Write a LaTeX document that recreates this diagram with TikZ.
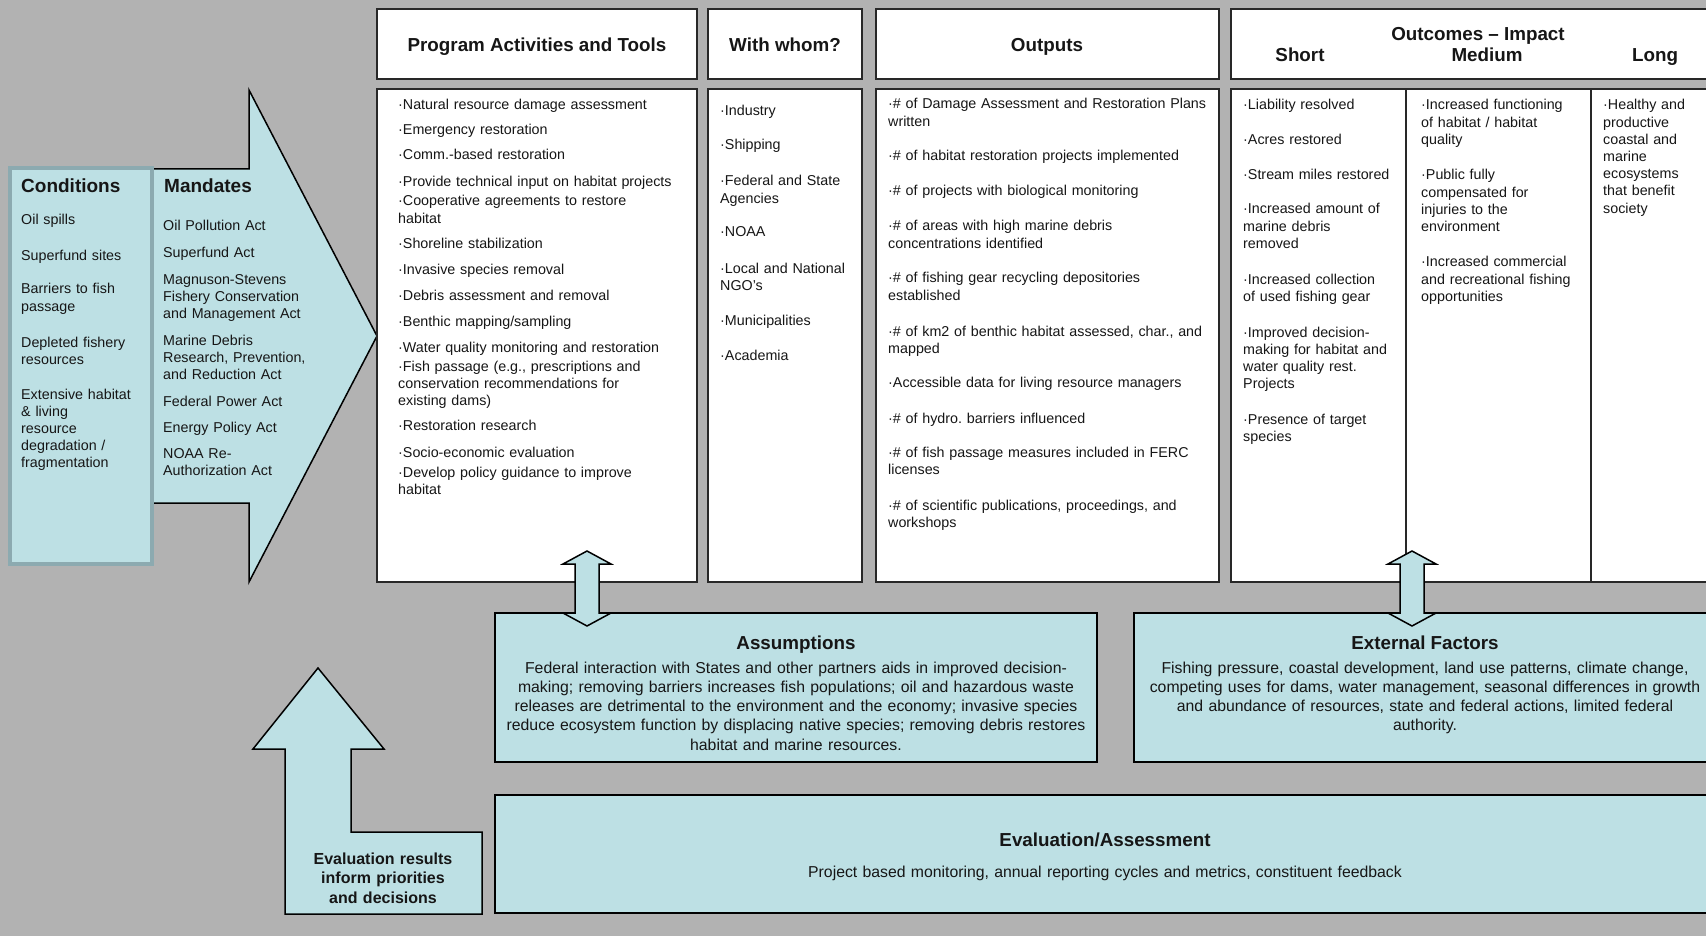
\documentclass[tikz,border=0pt]{standalone}
\usepackage{fontspec}
\setmainfont{Liberation Sans}
\definecolor{bg}{RGB}{178,178,178}
\definecolor{lb}{RGB}{189,224,228}
\definecolor{cb}{RGB}{140,170,176}
\definecolor{ink}{RGB}{22,22,22}
\definecolor{edge}{RGB}{40,40,40}
\frenchspacing
\begin{document}
\begin{tikzpicture}[x=1pt,y=-1pt,
  every node/.style={inner sep=0pt, text=ink},
  wbox/.style={draw=edge, line width=2pt, fill=white},
  bbox/.style={draw=black, line width=2pt, fill=lb},
  arr/.style={draw=black, line width=1.5pt, fill=lb, line join=miter},
  itm/.style={anchor=base west, align=left, text width=420pt, font=\fontsize{14.3}{17.2}\selectfont},
  hd/.style={anchor=base, font=\bfseries\fontsize{18.8}{22}\selectfont},
  colhd/.style={anchor=base west, font=\bfseries\fontsize{19}{22}\selectfont},
  para/.style={anchor=base, align=center, text width=640pt, font=\fontsize{15.8}{19.3}\selectfont},
]
\path[use as bounding box] (0,0) rectangle (1706,936);
\fill[bg] (0,0) rectangle (1706,936);

% big arrow (mandates) and conditions box
\draw[arr] (140,169) -- (249,169) -- (249,90) -- (377,336) -- (249,582) -- (249,503) -- (140,503) -- cycle;
\node[draw=cb, line width=4pt, fill=lb, minimum width=142, minimum height=396] (cond) at (81,366) {};

% header boxes
\node[wbox, minimum width=320, minimum height=70] (hpa) at (537,44) {};
\node[wbox, minimum width=154, minimum height=70] (hww) at (785,44) {};
\node[wbox, minimum width=343, minimum height=70] (hout) at (1047.5,44) {};
\node[wbox, minimum width=499, minimum height=70] (hoc) at (1480.5,44) {};

% body boxes
\node[wbox, minimum width=320, minimum height=493] (bpa) at (537,335.5) {};
\node[wbox, minimum width=154, minimum height=493] (bww) at (785,335.5) {};
\node[wbox, minimum width=343, minimum height=493] (bout) at (1047.5,335.5) {};
\node[wbox, minimum width=499, minimum height=493] (boc) at (1480.5,335.5) {};
\draw[edge, line width=2pt] (1406,89) -- (1406,582);
\draw[edge, line width=2pt] (1591,89) -- (1591,582);

% lower boxes
\node[bbox, minimum width=602, minimum height=149] (asm) at (796,687.5) {};
\node[bbox, minimum width=596, minimum height=149] (ext) at (1432,687.5) {};
\node[bbox, minimum width=1235, minimum height=118] (eva) at (1112.5,854) {};

% evaluation results arrow
\draw[arr] (285,914) -- (285,749) -- (253,749) -- (318,668) -- (384,749) -- (351,749) -- (351,832) -- (482,832) -- (482,914) -- cycle;

% double arrows
\foreach \cx in {587,1412}{
  \draw[arr] (\cx,551) -- ++(24,13) -- ++(-12,0) -- ++(0,49) -- ++(12,0) -- (\cx,626)
    -- ++(-24,-13) -- ++(12,0) -- ++(0,-49) -- ++(-12,0) -- cycle;
}

% headers text
\node[hd] (thpa) at (537,52) {Program Activities and Tools};
\node[hd] (thww) at (785,52) {With whom?};
\node[hd] (thout) at (1047,52) {Outputs};
\node[hd] (thoc) at (1478,41) {Outcomes – Impact};
\node[hd] (ths) at (1300,62) {Short};
\node[hd] (thm) at (1487,62) {Medium};
\node[hd] (thl) at (1655,62) {Long};

% conditions
\node[colhd] (tcond) at (21,193) {Conditions};
\node[itm] (c1) at (21,225) {Oil spills};
\node[itm] (c2) at (21,261) {Superfund sites};
\node[itm] (c3) at (21,294) {Barriers to fish\\passage};
\node[itm] (c4) at (21,347) {Depleted fishery\\resources};
\node[itm] (c5) at (21,399) {Extensive habitat\\\& living\\resource\\degradation /\\fragmentation};

% mandates
\node[colhd] (tmand) at (164,193) {Mandates};
\node[itm] (m1) at (163,231) {Oil Pollution Act};
\node[itm] (m2) at (163,258) {Superfund Act};
\node[itm] (m3) at (163,284) {Magnuson-Stevens\\Fishery Conservation\\and Management Act};
\node[itm] (m4) at (163,345) {Marine Debris\\Research, Prevention,\\and Reduction Act};
\node[itm] (m5) at (163,406) {Federal Power Act};
\node[itm] (m6) at (163,432) {Energy Policy Act};
\node[itm] (m7) at (163,458) {NOAA Re-\\Authorization Act};

% program activities
\node[itm] (p1) at (398,110) {·Natural resource damage assessment};
\node[itm] (p2) at (398,135) {·Emergency restoration};
\node[itm] (p3) at (398,160) {·Comm.-based restoration};
\node[itm] (p4) at (398,187) {·Provide technical input on habitat projects};
\node[itm] (p5) at (398,206) {·Cooperative agreements to restore\\habitat};
\node[itm] (p6) at (398,248) {·Shoreline stabilization};
\node[itm] (p7) at (398,274) {·Invasive species removal};
\node[itm] (p8) at (398,300) {·Debris assessment and removal};
\node[itm] (p9) at (398,326) {·Benthic mapping/sampling};
\node[itm] (p10) at (398,352) {·Water quality monitoring and restoration};
\node[itm] (p11) at (398,371) {·Fish passage (e.g., prescriptions and\\conservation recommendations for\\existing dams)};
\node[itm] (p12) at (398,430) {·Restoration research};
\node[itm] (p13) at (398,457) {·Socio-economic evaluation};
\node[itm] (p14) at (398,477) {·Develop policy guidance to improve\\habitat};

% with whom
\node[itm] (w1) at (720,116) {·Industry};
\node[itm] (w2) at (720,150) {·Shipping};
\node[itm] (w3) at (720,186) {·Federal and State\\Agencies};
\node[itm] (w4) at (720,237) {·NOAA};
\node[itm] (w5) at (720,273) {·Local and National\\NGO’s};
\node[itm] (w6) at (720,325) {·Municipalities};
\node[itm] (w7) at (720,360) {·Academia};

% outputs
\node[itm] (o1) at (888,109) {·\# of Damage Assessment and Restoration Plans\\written};
\node[itm] (o2) at (888,161) {·\# of habitat restoration projects implemented};
\node[itm] (o3) at (888,196) {·\# of projects with biological monitoring};
\node[itm] (o4) at (888,231) {·\# of areas with high marine debris\\concentrations identified};
\node[itm] (o5) at (888,283) {·\# of fishing gear recycling depositories\\established};
\node[itm] (o6) at (888,336) {·\# of km2 of benthic habitat assessed, char., and\\mapped};
\node[itm] (o7) at (888,387) {·Accessible data for living resource managers};
\node[itm] (o8) at (888,423) {·\# of hydro. barriers influenced};
\node[itm] (o9) at (888,457) {·\# of fish passage measures included in FERC\\licenses};
\node[itm] (o10) at (888,510) {·\# of scientific publications, proceedings, and\\workshops};

% short
\node[itm] (s1) at (1243,110) {·Liability resolved};
\node[itm] (s2) at (1243,145) {·Acres restored};
\node[itm] (s3) at (1243,180) {·Stream miles restored};
\node[itm] (s4) at (1243,214) {·Increased amount of\\marine debris\\removed};
\node[itm] (s5) at (1243,284) {·Increased collection\\of used fishing gear};
\node[itm] (s6) at (1243,337) {·Improved decision-\\making for habitat and\\water quality rest.\\Projects};
\node[itm] (s7) at (1243,424) {·Presence of target\\species};

% medium
\node[itm] (md1) at (1421,110) {·Increased functioning\\of habitat / habitat\\quality};
\node[itm] (md2) at (1421,180) {·Public fully\\compensated for\\injuries to the\\environment};
\node[itm] (md3) at (1421,267) {·Increased commercial\\and recreational fishing\\opportunities};

% long
\node[itm] (l1) at (1603,110) {·Healthy and\\productive\\coastal and\\marine\\ecosystems\\that benefit\\society};

% assumptions
\node[hd] (tasm) at (796,649) {Assumptions};
\node[para] (pasm) at (796,673) {Federal interaction with States and other partners aids in improved decision-\\making; removing barriers increases fish populations; oil and hazardous waste\\releases are detrimental to the environment and the economy; invasive species\\reduce ecosystem function by displacing native species; removing debris restores\\habitat and marine resources.};

% external factors
\node[hd] (text) at (1425,649) {External Factors};
\node[para] (pext) at (1425,673) {Fishing pressure, coastal development, land use patterns, climate change,\\competing uses for dams, water management, seasonal differences in growth\\and abundance of resources, state and federal actions, limited federal\\authority.};

% evaluation / assessment
\node[hd] (teva) at (1105,846) {Evaluation/Assessment};
\node[para, text width=800pt] (peva) at (1105,877) {Project based monitoring, annual reporting cycles and metrics, constituent feedback};

% evaluation results
\node[anchor=base, align=center, text width=200pt, font=\bfseries\fontsize{16}{19.5}\selectfont] (tres) at (383,864) {Evaluation results\\inform priorities\\and decisions};
\end{tikzpicture}
\end{document}
